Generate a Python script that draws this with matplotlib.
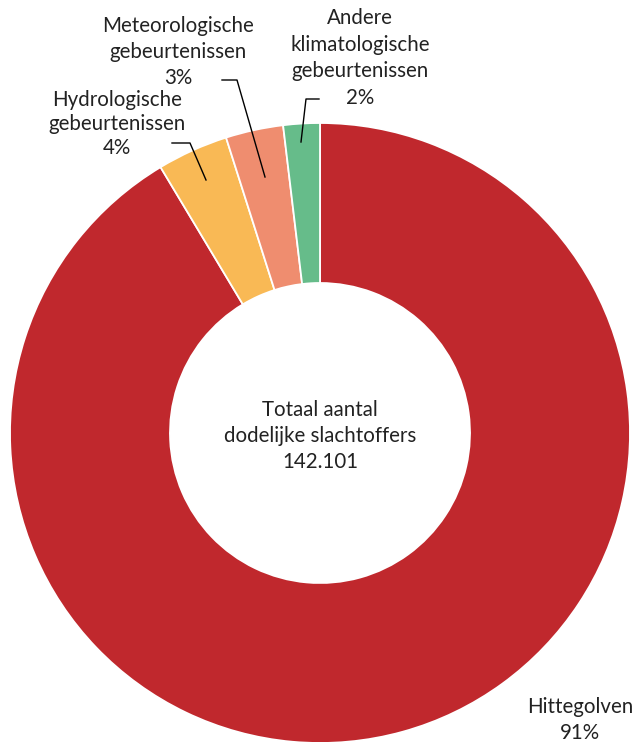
import matplotlib.pyplot as plt

plt.rcParams['font.family'] = ['Lato', 'DejaVu Sans']

labels = ['Hittegolven', 'Hydrologische\ngebeurtenissen',
          'Meteorologische\ngebeurtenissen', 'Andere\nklimatologische\ngebeurtenissen']
shares = [91.4, 3.7, 3.0, 1.9]
pct_labels = ['91%', '4%', '3%', '2%']
colors = ['#C0282D', '#F9B955', '#EF8D6F', '#66BC8A']
total_text = 'Totaal aantal\ndodelijke slachtoffers\n142.101'

W, H = 638, 742
fig = plt.figure(figsize=(W / 100, H / 100), dpi=100)
ax = fig.add_axes([0, 0, 1, 1])

cx, cy, R = 320, H - 433, 310
ax.pie(shares, colors=colors, startangle=90, counterclock=False,
       radius=R, center=(cx, cy),
       wedgeprops=dict(width=160, edgecolor='white', linewidth=1.3))

ax.set_xlim(0, W)
ax.set_ylim(0, H)
ax.set_aspect('equal')
ax.axis('off')

fs = 14.8
ls = 1.4
ax.text(cx, H - 436, total_text, ha='center', va='center', fontsize=fs,
        linespacing=ls, color='#222222')

# label texts (pixel positions from the top)
label_pos = {
    0: (580, 720),
    1: (117, 124),
    2: (178, 52),
    3: (360, 58),
}
for i, (x, y) in label_pos.items():
    ax.text(x, H - y, labels[i] + '\n' + pct_labels[i], ha='center', va='center',
            fontsize=fs, linespacing=ls if i != 1 else 1.25, color='#222222')

# leader lines
leaders = [
    [(206, 180), (190, 143), (172, 143)],
    [(265, 177), (237, 80), (222, 80)],
    [(301, 142), (306, 99), (319, 99)],
]
for pts in leaders:
    xs = [p[0] for p in pts]
    ys = [H - p[1] for p in pts]
    ax.plot(xs, ys, color='black', lw=1)

fig.savefig('out.png', dpi=100)
